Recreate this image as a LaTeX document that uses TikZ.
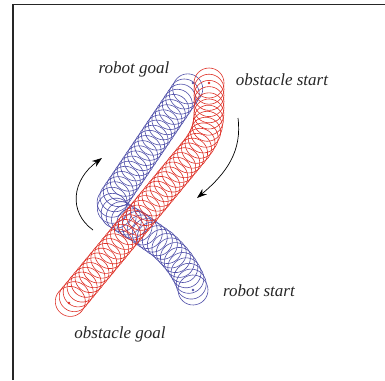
\documentclass[tikz,border=0pt]{standalone}
\usepackage{fontspec}
\setmainfont{Liberation Serif}
\usetikzlibrary{decorations.markings,arrows.meta}
\definecolor{obstred}{RGB}{222,48,38}
\definecolor{robotblue}{RGB}{78,78,168}
\tikzset{
  trail/.style={decoration={markings,
      mark=between positions 0 and 1 step 6.2pt with {\draw[line width=0.6pt] (0,0) circle[radius=15pt];}},
    postaction={decorate}},
  robottrail/.style={trail, robotblue},
  obsttrail/.style={trail, obstred},
  label/.style={font=\fontsize{17}{20}\selectfont\itshape, text=black!85, inner sep=0pt},
  motion/.style={line width=0.7pt, -{Stealth[length=10pt,width=7pt]}},
  frameline/.style={line width=1.4pt, black!85},
  centerdot/.style={radius=1.3pt}
}
\begin{document}
\begin{tikzpicture}[x=1pt,y=-1pt]
  \useasboundingbox (0,0) rectangle (385,380);
  \draw[frameline] (13,380) -- (13,4.5) -- (385,4.5);

  % robot sweep: start lower right, back up-left, then up-right to goal
  \coordinate (rs) at (193,290);
  \coordinate (rg) at (193,83);
  \path[robottrail] (rs) .. controls (189,274) and (178,258) .. (162,244)
    -- (138,227) .. controls (120,215) and (106,212) .. (114,198) -- (189,87);
  \fill[robotblue] (rs) circle[centerdot];
  \fill[robotblue] (rg) circle[centerdot];

  % obstacle sweep: start top right, down then along the diagonal
  \coordinate (os) at (209,83);
  \coordinate (og) at (69,303);
  \path[obsttrail] (os) -- (209,108) .. controls (209,126) and (206,136) .. (196,149) -- (og);
  \fill[obstred] (os) circle[centerdot];
  \fill[obstred] (og) circle[centerdot];

  % direction arrows
  \coordinate (la) at (93,230);
  \coordinate (lb) at (102,158);
  \draw[motion] (la) .. controls (68,212) and (72,180) .. (lb);
  \coordinate (ra) at (238,118);
  \coordinate (rb) at (197,198);
  \draw[motion] (ra) .. controls (242,150) and (228,172) .. (rb);

  % labels
  \node[label] (rgoal) at (134,69) {robot goal};
  \node[label] (ostart) at (282,80) {obstacle start};
  \node[label] (rstart) at (259,291) {robot start};
  \node[label] (ogoal) at (120,334) {obstacle goal};
\end{tikzpicture}
\end{document}
